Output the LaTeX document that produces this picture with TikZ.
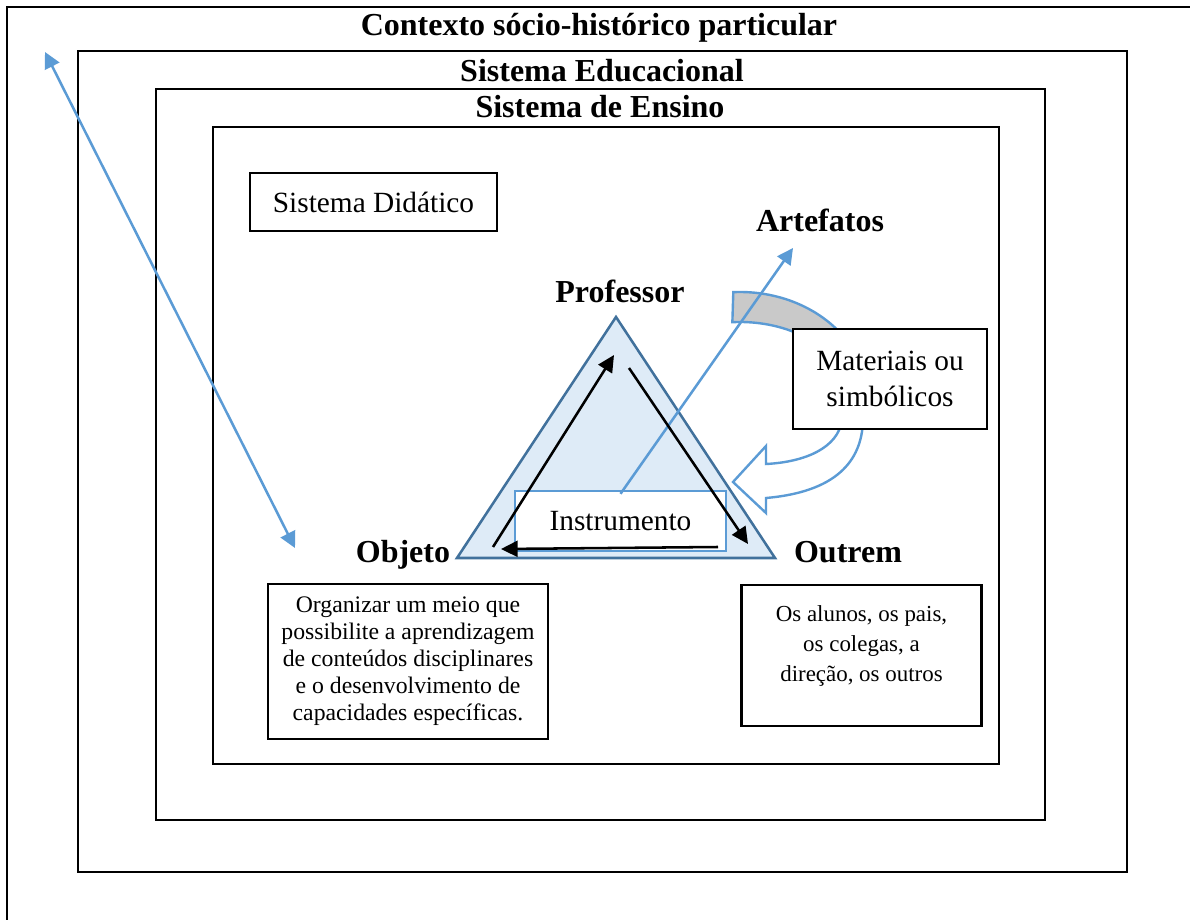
\documentclass[tikz,border=0pt]{standalone}
\usepackage{fontspec}
\setmainfont{Liberation Serif}
\usetikzlibrary{arrows.meta}
\definecolor{lineBlue}{HTML}{5B9BD5}
\definecolor{triBlue}{HTML}{41719C}
\definecolor{triFill}{HTML}{DEEBF7}
\definecolor{bandGray}{HTML}{C9C9C9}

\begin{document}
\begin{tikzpicture}
[x=0.75pt,y=-0.75pt,%
  frameDecorate/.style={draw,line width=2pt},%
  titleDecorate/.style={font=\fontsize{24}{28}\selectfont\bfseries,anchor=base,inner sep=0pt},%
  boxDecorate/.style={draw,line width=2pt,fill=white,align=center,inner sep=0pt},%
  blueArrow/.style={draw=lineBlue,line width=1.9pt,-{Triangle[length=12pt,width=12pt]}},%
  blackArrow/.style={draw=black,line width=1.9pt,-{Triangle[length=12.5pt,width=12pt]}},%
  bandDecorate/.style={draw=lineBlue,line width=1.8pt,line join=miter}]
\useasboundingbox (0,0) rectangle (1190,920);
%% nested frames and their titles
\draw[frameDecorate] (1190,7) -- (7,7) -- (7,920);
\foreach \xa/\ya/\xb/\yb in {78/51/1127/872, 156/89/1045/820, 213/127/999/764}
  \draw[frameDecorate] (\xa,\ya) rectangle (\xb,\yb);
\foreach \nodename/\x/\y/\text in {
  ctx/599/36/Contexto sócio-histórico particular,
  edu/602/82/Sistema Educacional, ens/600/118/Sistema de Ensino}
  \node[titleDecorate] (\nodename) at (\x,\y) {\text};
%% long double arrow
\coordinate (ctxtip) at (45,52);
\coordinate (objtip) at (295,548);
\draw[blueArrow,{Triangle[length=12pt,width=12pt]}-{Triangle[length=12pt,width=12pt]}] (ctxtip) -- (objtip);
%% didactic triangle
\coordinate (vprof) at (616,317);
\coordinate (vobj) at (457,558);
\coordinate (vout) at (775,558);
\draw[triBlue,fill=triFill,line width=1.9pt] (vprof) -- (vobj) -- (vout) -- cycle;
%% curved arrow of the artefacts
\draw[bandDecorate,fill=bandGray] (740,400) ++(-93:128 and 108)
  arc[start angle=-93,end angle=-30,x radius=128,y radius=108]
  -- (835.3,361) arc[start angle=-30,end angle=-94,x radius=110,y radius=78] -- cycle;
\draw[bandDecorate,fill=white] (842,420) .. controls (838,448) and (805,462) .. (766,464)
  -- (766,446) -- (733,482) -- (766,513) -- (766,498)
  .. controls (835,492) and (862,462) .. (863,420) -- cycle;
\node[boxDecorate,draw=lineBlue,line width=1.8pt,minimum width=158.25pt,minimum height=45pt,
  font=\fontsize{22}{27}\selectfont] (instr) at (620.5,521) {Instrumento};
\coordinate (artip) at (793,248);
\draw[blueArrow] ([yshift=-3pt]instr.north) -- (artip);
\node[boxDecorate,minimum width=145.5pt,minimum height=75pt,
  font=\fontsize{22}{27}\selectfont] (mat) at (890,379) {Materiais ou\\simbólicos};
%% arrows between the poles
\coordinate (a1) at (493,547); \coordinate (b1) at (614,355);
\coordinate (a2) at (629,368); \coordinate (b2) at (748,544);
\coordinate (a3) at (718,547); \coordinate (b3) at (501,549);
\path
(a1) edge[blackArrow] (b1)
(a2) edge[blackArrow] (b2)
(a3) edge[blackArrow] (b3);
%% pole labels
\foreach \nodename/\x/\y in {Professor/620/303, Artefatos/820/232, Objeto/403/562, Outrem/848/562}
  \node[titleDecorate] (\nodename) at (\x,\y) {\nodename};
%% text boxes
\node[boxDecorate,minimum width=185.25pt,minimum height=43.5pt,
  font=\fontsize{22}{27}\selectfont] (sysdid) at (373.5,202) {Sistema Didático};
\node[boxDecorate,minimum width=210pt,minimum height=116.25pt,
  font=\fontsize{17.8}{20.25}\selectfont] (objbox) at (408,661.5)
  {Organizar um meio que\\possibilite a aprendizagem\\de conteúdos disciplinares\\e o desenvolvimento de\\capacidades específicas.};
\node[boxDecorate,minimum width=180pt,minimum height=105.75pt] (outbox) at (861.5,655.5) {};
\node[align=center,inner sep=0pt,font=\fontsize{17.2}{22.5}\selectfont] (outtxt) at (861.5,646)
  {Os alunos, os pais,\\os colegas, a\\direção, os outros};
\end{tikzpicture}
\end{document}
